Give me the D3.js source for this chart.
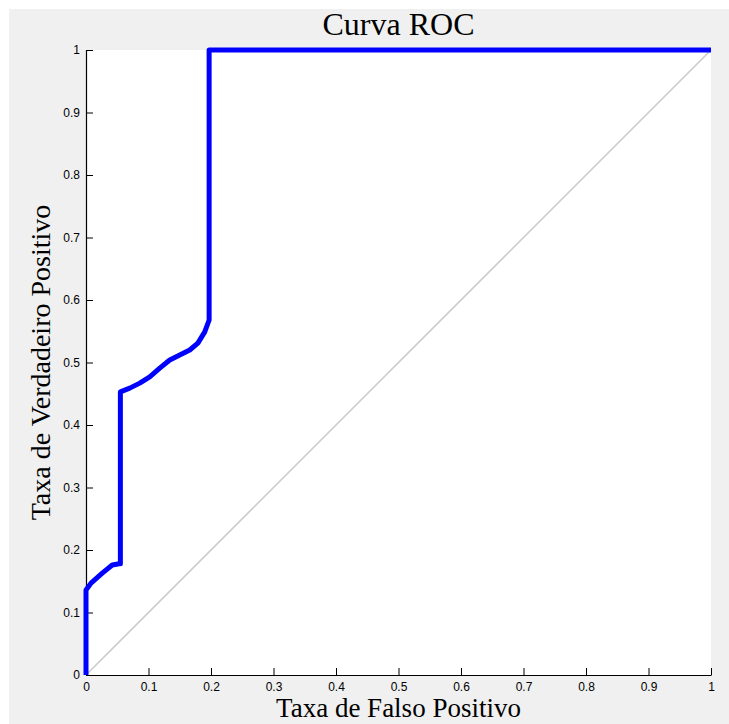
<!DOCTYPE html>
<html>
<head>
<meta charset="utf-8">
<script src="https://cdn.jsdelivr.net/npm/d3@7"></script>
<style>
  html, body { margin: 0; padding: 0; background: #ffffff; }
  svg { display: block; }
</style>
</head>
<body>
<svg id="chart" width="729" height="724"></svg>
<script>
// ROC curve: false positive rate vs. true positive rate
const fpr = [0, 0, 0.008, 0.026, 0.042, 0.053, 0.055, 0.055, 0.070, 0.086, 0.102, 0.118, 0.134, 0.150, 0.166, 0.179, 0.190, 0.197, 0.197, 1];
const tpr = [0, 0.136, 0.147, 0.163, 0.176, 0.178, 0.178, 0.453, 0.459, 0.467, 0.477, 0.491, 0.504, 0.512, 0.520, 0.531, 0.549, 0.568, 1, 1];
const tickValues = [0, 0.1, 0.2, 0.3, 0.4, 0.5, 0.6, 0.7, 0.8, 0.9, 1];
const tickLabels = ["0", "0.1", "0.2", "0.3", "0.4", "0.5", "0.6", "0.7", "0.8", "0.9", "1"];
const titleText = "Curva ROC";
const xLabel = "Taxa de Falso Positivo";
const yLabel = "Taxa de Verdadeiro Positivo";

const svg = d3.select("#chart");
const W = 729, H = 724;
const plot = { left: 86, right: 711, top: 50, bottom: 675 };

// figure background
svg.append("rect").attr("x", 9).attr("y", 9).attr("width", W - 9).attr("height", H - 9).attr("fill", "#f0f0f0");

const x = d3.scaleLinear().domain([0, 1]).range([plot.left, plot.right]);
const y = d3.scaleLinear().domain([0, 1]).range([plot.bottom, plot.top]);

// axes area
svg.append("rect")
  .attr("x", plot.left).attr("y", plot.top)
  .attr("width", plot.right - plot.left).attr("height", plot.bottom - plot.top)
  .attr("fill", "#ffffff");

// chance diagonal
svg.append("line")
  .attr("x1", x(0)).attr("y1", y(0)).attr("x2", x(1)).attr("y2", y(1))
  .attr("stroke", "#c8c8c8").attr("stroke-width", 1.5);

// axes with inward ticks
const fmt = (d) => tickLabels[tickValues.indexOf(d)];
const xAxis = d3.axisBottom(x).tickValues(tickValues).tickFormat(fmt).tickSizeInner(-7).tickSizeOuter(0).tickPadding(7);
const yAxis = d3.axisLeft(y).tickValues(tickValues).tickFormat(fmt).tickSizeInner(-7).tickSizeOuter(0).tickPadding(6);

const gx = svg.append("g").attr("transform", `translate(0,${plot.bottom})`).call(xAxis);
const gy = svg.append("g").attr("transform", `translate(${plot.left},0)`).call(yAxis);
[gx, gy].forEach(g => {
  g.select(".domain").attr("stroke", "#000").attr("stroke-width", 1.2);
  g.selectAll(".tick line").attr("stroke", "#000");
  g.selectAll(".tick text")
    .attr("fill", "#000")
    .style("font-family", "'Liberation Sans', Arial, sans-serif")
    .style("font-size", "12px");
});

// ROC curve
const pts = fpr.map((v, i) => [v, tpr[i]]);
const line = d3.line().x(d => x(d[0])).y(d => y(d[1]));
svg.append("path")
  .datum(pts)
  .attr("d", line)
  .attr("fill", "none")
  .attr("stroke", "#0000ff")
  .attr("stroke-width", 5)
  .attr("stroke-linejoin", "round");

// title and axis labels
const serif = "'Liberation Serif', 'Times New Roman', serif";
svg.append("text")
  .attr("x", (plot.left + plot.right) / 2).attr("y", 35)
  .attr("text-anchor", "middle")
  .style("font-family", serif).style("font-size", "32px")
  .attr("fill", "#000")
  .text(titleText);

svg.append("text")
  .attr("x", (plot.left + plot.right) / 2).attr("y", 717)
  .attr("text-anchor", "middle")
  .style("font-family", serif).style("font-size", "27px")
  .attr("fill", "#000")
  .text(xLabel);

svg.append("text")
  .attr("transform", `translate(50,${(plot.top + plot.bottom) / 2}) rotate(-90)`)
  .attr("text-anchor", "middle")
  .style("font-family", serif).style("font-size", "28px")
  .attr("fill", "#000")
  .text(yLabel);
</script>
</body>
</html>
